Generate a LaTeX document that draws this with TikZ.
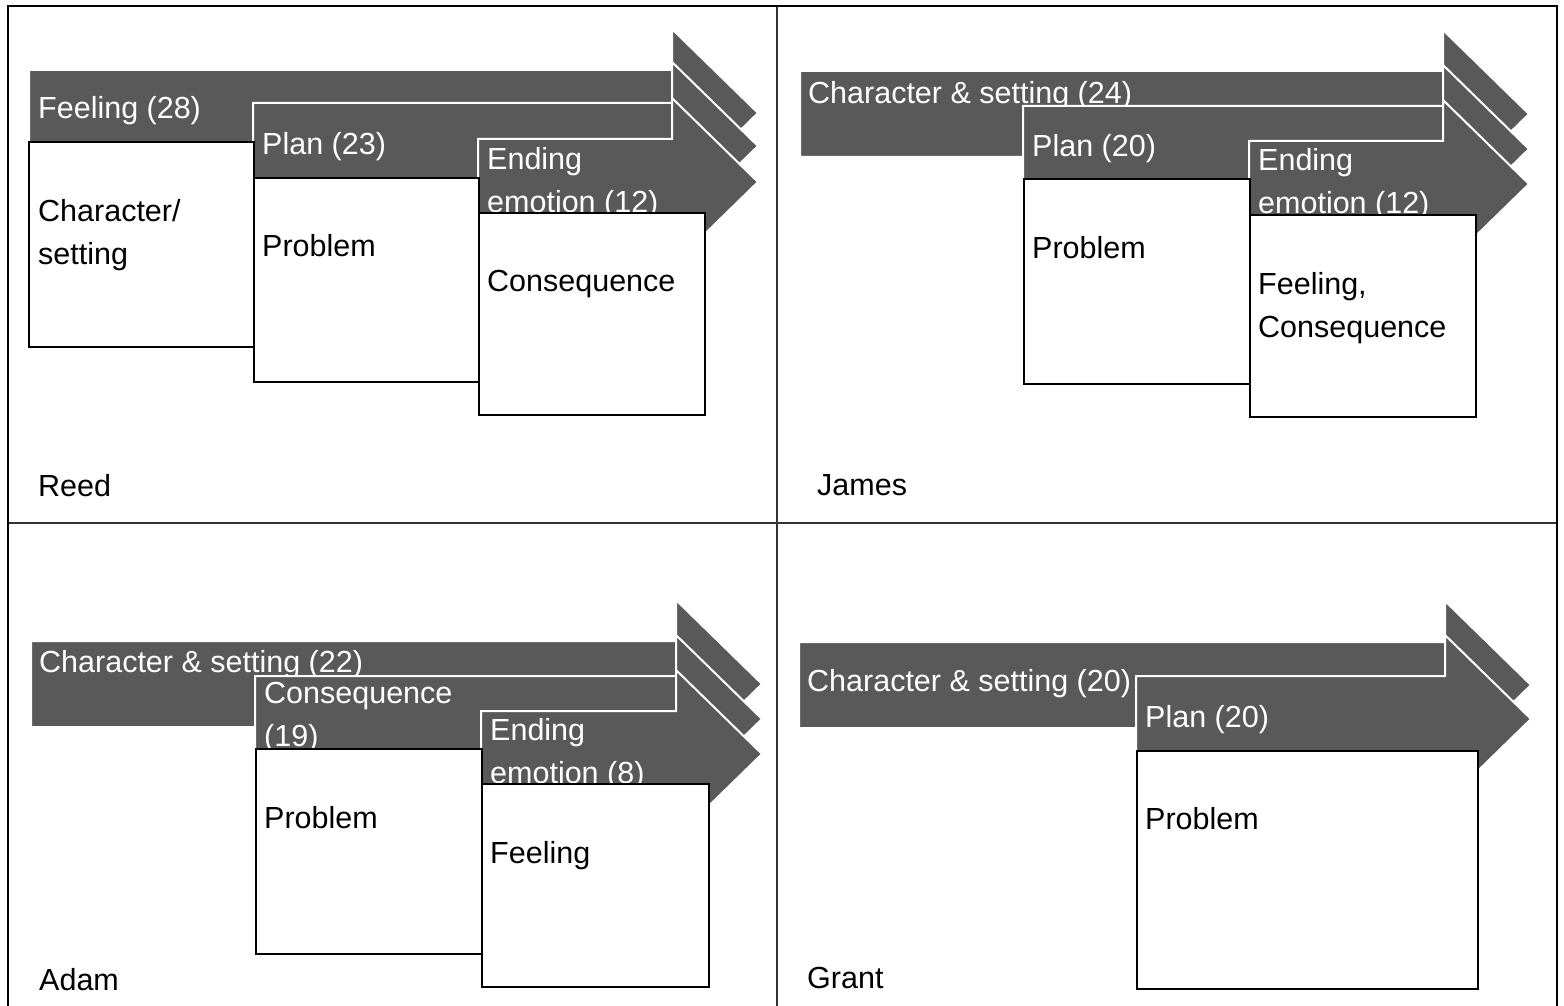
\documentclass[tikz,border=0pt]{standalone}
\usepackage{fontspec}
\setmainfont{Liberation Sans}
\usetikzlibrary{calc}
\definecolor{arrowgray}{HTML}{595959}
\definecolor{panelgray}{HTML}{333333}
\newcommand{\stagearrow}[4]{\filldraw[stagearrow] (#2,#3) coordinate (#1) -- (#4,#3) -- (#4,#3-41) -- (#4+86,#3+43) -- (#4,#3+127) -- (#4,#3+86) -- (#2,#3+86) -- cycle;}
\tikzset{
    stagearrow/.style={fill=arrowgray, draw=white, line width=2pt, line join=miter},
    stagebox/.style={draw=black, fill=white, line width=2.4pt, anchor=north west, inner sep=0pt, minimum width=225pt, minimum height=204pt},
    arrowtext/.style={text=white, anchor=north west, inner sep=0pt, align=left, font=\fontsize{30.5}{43}\selectfont},
    boxtext/.style={arrowtext, text=black},
    student/.style={boxtext},
    frameline/.style={draw=black, line width=2.5pt},
    panelline/.style={draw=panelgray, line width=1.5pt}
}
\begin{document}
\begin{tikzpicture}[x=1pt, y=-1pt]
                    \useasboundingbox (0,0) rectangle (1564,1006);
                    \clip (0,0) rectangle (1564,1006);
                    \draw[panelline] (777,6) -- (777,1030);
                    \draw[panelline] (8,523) -- (1557,523);
                    \draw[frameline] (8,6) rectangle (1557,1030);

                    \stagearrow{reeda1}{29}{70}{672}
                    \node[arrowtext] (reedfeel) at ($(reeda1) + (9, 26)$) {Feeling (28)};
                    \stagearrow{reeda2}{253}{103}{672}
                    \node[arrowtext] (reedplan) at ($(reeda2) + (9, 29)$) {Plan (23)};
                    \stagearrow{reeda3}{478}{139}{672}
                    \node[arrowtext] (reedend) at ($(reeda3) + (9, 8)$) {Ending\\emotion (12)};
                    \node[stagebox, minimum height=205pt] (reedb1) at (28,141) {};
                    \node[stagebox] (reedb2) at (253,177) {};
                    \node[stagebox, minimum width=226pt, minimum height=202pt] (reedb3) at (478,212) {};
                    \node[boxtext] (reedchar) at ($(reedb1.north west) + (10, 58)$) {Character/\\setting};
                    \node[boxtext] (reedprob) at ($(reedb2.north west) + (9, 57)$) {Problem};
                    \node[boxtext] (reedcons) at ($(reedb3.north west) + (9, 58)$) {Consequence};
                    \node[student] (reed) at (38,474) {Reed};

                    \stagearrow{jamesa1}{800}{71}{1443}
                    \node[arrowtext] (jameschar) at ($(jamesa1) + (8, 10)$) {Character \& setting (24)};
                    \stagearrow{jamesa2}{1023}{106}{1443}
                    \node[arrowtext] (jamesplan) at ($(jamesa2) + (9, 28)$) {Plan (20)};
                    \stagearrow{jamesa3}{1249}{141}{1443}
                    \node[arrowtext] (jamesend) at ($(jamesa3) + (9, 7)$) {Ending\\emotion (12)};
                    \node[stagebox, minimum width=226pt, minimum height=205pt] (jamesb2) at (1023,178) {};
                    \node[stagebox, minimum width=226pt, minimum height=202pt] (jamesb3) at (1249,214) {};
                    \node[boxtext] (jamesprob) at ($(jamesb2.north west) + (9, 58)$) {Problem};
                    \node[boxtext] (jamescons) at ($(jamesb3.north west) + (9, 58)$) {Feeling,\\Consequence};
                    \node[student] (james) at (817,474) {James};

                    \stagearrow{adama1}{31}{641}{676}
                    \node[arrowtext] (adamchar) at ($(adama1) + (8, 9)$) {Character \& setting (22)};
                    \stagearrow{adama2}{255}{676}{676}
                    \node[arrowtext] (adamcons) at ($(adama2) + (9, 6)$) {Consequence\\(19)};
                    \stagearrow{adama3}{481}{711}{676}
                    \node[arrowtext] (adamend) at ($(adama3) + (9, 7)$) {Ending\\emotion (8)};
                    \node[stagebox, minimum width=226pt, minimum height=205pt] (adamb2) at (255,748) {};
                    \node[stagebox, minimum width=227pt, minimum height=203pt] (adamb3) at (481,783) {};
                    \node[boxtext] (adamprob) at ($(adamb2.north west) + (9, 58)$) {Problem};
                    \node[boxtext] (adamfeel) at ($(adamb3.north west) + (9, 58)$) {Feeling};
                    \node[student] (adam) at (39,968) {Adam};

                    \stagearrow{granta1}{799}{642}{1445}
                    \node[arrowtext] (grantchar) at ($(granta1) + (8, 27)$) {Character \& setting (20)};
                    \stagearrow{granta2}{1136}{676}{1445}
                    \node[arrowtext] (grantplan) at ($(granta2) + (9, 29)$) {Plan (20)};
                    \node[stagebox, minimum width=341pt, minimum height=238pt] (grantb2) at (1136,750) {};
                    \node[boxtext] (grantprob) at ($(grantb2.north west) + (9, 57)$) {Problem};
                    \node[student] (grant) at (807,967) {Grant};
                \end{tikzpicture}
\end{document}
